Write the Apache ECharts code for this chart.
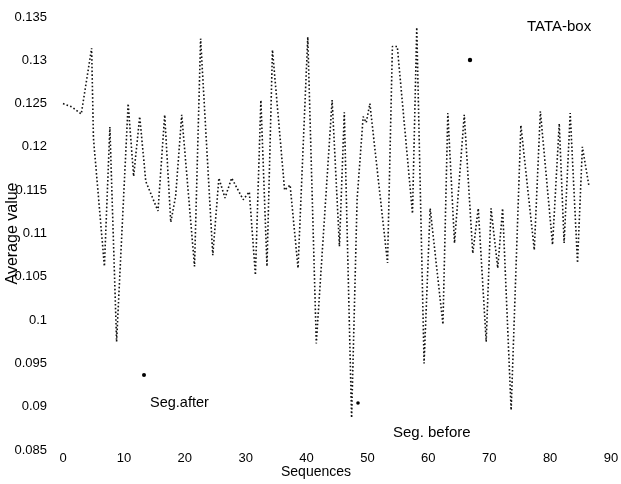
<!DOCTYPE html>
<html>
<head>
<meta charset="utf-8">
<script src="https://cdn.jsdelivr.net/npm/echarts@6/dist/echarts.min.js"></script>
<style>
  html, body { margin: 0; padding: 0; background: #fff; }
  #chart { width: 621px; height: 484px; }
</style>
</head>
<body>
<div id="chart"></div>
<script>
// sequence positions and average values
const seqPos = [0, 1.5, 3.0, 4.7, 5.0, 6.8, 7.7, 8.8, 10.7, 11.6, 12.6, 13.6, 15.6, 16.7, 17.7, 18.5, 19.5,
  21.6, 22.6, 24.6, 25.6, 26.6, 27.7, 29.6, 30.6, 31.6, 32.5, 33.5, 34.4, 36.4, 37.3, 38.6, 40.2, 41.6,
  44.2, 45.4, 46.2, 47.4, 48.3, 49.3, 49.8, 50.4, 53.3, 54.1, 54.9, 57.4, 58.1, 59.3, 60.3, 62.4, 63.2,
  64.3, 65.9, 67.3, 68.2, 69.5, 70.3, 71.4, 72.2, 73.6, 75.2, 77.4, 78.4, 80.4, 81.5, 82.3, 83.3, 84.5,
  85.3, 86.4];
const avgValue = [0.1250, 0.1246, 0.1238, 0.1314, 0.1210, 0.1062, 0.1223, 0.0975, 0.1250, 0.1166, 0.1235,
  0.1160, 0.1126, 0.1237, 0.1113, 0.1143, 0.1237, 0.1062, 0.1325, 0.1075, 0.1164, 0.1141, 0.1164, 0.1139,
  0.1148, 0.1052, 0.1254, 0.1062, 0.1312, 0.1150, 0.1156, 0.1060, 0.1327, 0.0973, 0.1254, 0.1085, 0.1240,
  0.0887, 0.1139, 0.1235, 0.1228, 0.1250, 0.1066, 0.1316, 0.1316, 0.1123, 0.1338, 0.0950, 0.1129, 0.0995,
  0.1239, 0.1089, 0.1237, 0.1077, 0.1129, 0.0975, 0.1129, 0.1060, 0.1129, 0.0896, 0.1225, 0.1081, 0.1241,
  0.1087, 0.1227, 0.1089, 0.1239, 0.1066, 0.1200, 0.1154];
const xTicks = ['0', '10', '20', '30', '40', '50', '60', '70', '80', '90'];
const yTicks = ['0.085', '0.09', '0.095', '0.1', '0.105', '0.11', '0.115', '0.12', '0.125', '0.13', '0.135'];
const notes = ['TATA-box', 'Seg.after', 'Seg. before'];

const font = 'Liberation Sans, Arial, sans-serif';
const points = seqPos.map((x, i) => [x, avgValue[i]]);

const myChart = echarts.init(document.getElementById('chart'));
const option = {
  backgroundColor: '#fff',
  animation: false,
  grid: { left: 63, right: 10, top: 17, bottom: 34, outerBoundsMode: 'none', containLabel: false },
  xAxis: {
    type: 'value',
    min: 0, max: 90, interval: 10,
    name: 'Sequences',
    nameLocation: 'middle',
    nameGap: 15,
    nameMoveOverlap: false,
    nameTextStyle: { color: '#000', fontFamily: font, fontSize: 14, padding: [0, 42, 0, 0] },
    axisLine: { show: false },
    axisTick: { show: false },
    splitLine: { show: false },
    axisLabel: {
      color: '#000', fontFamily: font, fontSize: 13, margin: 2,
      formatter: (v) => xTicks[Math.round(v / 10)]
    }
  },
  yAxis: {
    type: 'value',
    min: 0.085, max: 0.135, interval: 0.005,
    name: 'Average value',
    nameLocation: 'middle',
    nameGap: 42,
    nameMoveOverlap: false,
    nameTextStyle: { color: '#000', fontFamily: font, fontSize: 16 },
    axisLine: { show: false },
    axisTick: { show: false },
    splitLine: { show: false },
    axisLabel: {
      color: '#000', fontFamily: font, fontSize: 13, margin: 16,
      formatter: (v) => yTicks[Math.round((v - 0.085) / 0.005)]
    }
  },
  series: [{
    type: 'line',
    data: points,
    showSymbol: false,
    lineStyle: { color: '#111', width: 1.6, type: [1.6, 2.2] }
  }],
  graphic: [
    { type: 'text', left: 527, top: 19, style: { text: notes[0], fill: '#000', font: '15px ' + font } },
    { type: 'text', left: 150, top: 395, style: { text: notes[1], fill: '#000', font: '14.5px ' + font } },
    { type: 'text', left: 393, top: 425, style: { text: notes[2], fill: '#000', font: '15px ' + font } },
    { type: 'circle', shape: { cx: 144, cy: 375, r: 2 }, style: { fill: '#000' } },
    { type: 'circle', shape: { cx: 470, cy: 60, r: 2.2 }, style: { fill: '#000' } },
    { type: 'circle', shape: { cx: 358, cy: 403, r: 1.8 }, style: { fill: '#000' } }
  ]
};
myChart.setOption(option);
</script>
</body>
</html>
